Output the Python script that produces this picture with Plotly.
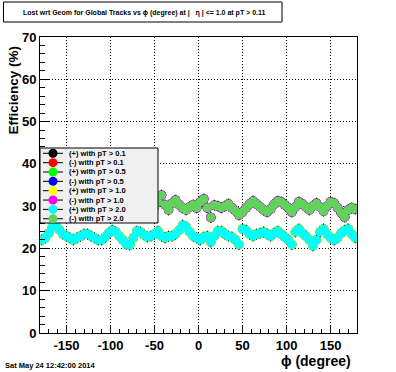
import plotly.graph_objects as go

# ---------------- data ----------------
phi = list(range(-178, 180, 4))  # bin centers (degrees)

eff_pos = [22.0, 22.5, 23.6, 25.1, 25.4, 24.4, 23.4, 22.9, 22.5, 22.0,
           22.5, 22.9, 23.4, 23.4, 22.9, 22.5, 22.0, 22.0, 22.7, 23.6,
           24.3, 23.9, 22.9, 22.0, 21.0, 20.8, 22.5, 24.1, 23.9, 23.2,
           22.7, 22.9, 23.4, 24.1, 22.9, 22.5, 22.9, 22.9, 23.4, 24.3,
           25.5, 25.1, 23.9, 22.9, 22.5, 22.0, 22.7, 22.9, 21.5, 22.9,
           24.1, 24.1, 23.4, 22.9, 22.7, 22.0, 20.9, 24.6, 24.3, 23.4,
           22.9, 23.4, 23.6, 23.9, 23.4, 22.9, 23.6, 24.1, 23.4, 22.7,
           22.0, 20.9, 23.9, 24.6, 23.6, 22.9, 22.0, 20.6, 22.0, 23.9,
           24.6, 23.4, 22.5, 22.0, 22.5, 23.6, 24.3, 24.6, 23.4, 22.5]

eff_neg = [31.4, 30.5, 30.0, 29.6, 30.2, 30.8, 31.0, 30.4, 29.8, 29.5,
           30.0, 30.6, 31.2, 30.8, 30.1, 29.6, 29.9, 30.5, 30.9, 30.3,
           29.7, 29.4, 29.9, 30.6, 31.1, 30.7, 30.0, 29.5, 29.8, 30.4,
           30.9, 30.5, 29.9, 31.0, 32.6, 30.3, 29.1, 30.7, 31.4, 30.3,
           29.6, 29.1, 29.8, 30.3, 29.6, 31.0, 31.7, 29.6, 27.3, 30.2,
           30.0, 29.6, 30.0, 30.5, 29.6, 28.8, 27.9, 28.6, 29.6, 30.5,
           31.2, 30.5, 29.8, 29.1, 28.6, 29.3, 30.5, 31.2, 31.0, 30.3,
           29.6, 28.6, 29.8, 31.0, 30.5, 29.8, 29.1, 30.0, 30.7, 29.8,
           28.8, 30.0, 31.0, 30.7, 29.6, 28.4, 27.4, 29.1, 29.6, 29.3]

series_labels = ["(+) with pT > 0.1", "(-) with pT > 0.1",
                 "(+) with pT > 0.5", "(-) with pT > 0.5",
                 "(+) with pT > 1.0", "(-) with pT > 1.0",
                 "(+) with pT > 2.0", "(-) with pT > 2.0"]
series_values = [eff_pos, eff_neg, eff_pos, eff_neg,
                 eff_pos, eff_neg, eff_pos, eff_neg]
series_colors = ["#000000", "#ff0000", "#00ff00", "#0000ff",
                 "#ffff00", "#ff00ff", "#00ffff", "#5fd35a"]

x_ticks = [-150, -100, -50, 0, 50, 100, 150]
y_ticks = [0, 10, 20, 30, 40, 50, 60, 70]

title_text = "Lost wrt Geom for Global Tracks vs \u03d5 (degree) at |   \u03b7 | <= 1.0 at pT > 0.11"
date_text = "Sat May 24 12:42:00 2014"

# ---------------- layout helpers ----------------
W, H = 396, 372
L, R, T, B = 40, 39, 37, 39
PW, PH = W - L - R, H - T - B


def px2x(px):
    return (px - L) / PW


def py2y(py):
    return (H - B - py) / PH


FONT = "Liberation Sans, Arial, Helvetica, sans-serif"

fig = go.Figure()

n = len(series_labels)
for i, (lab, vals, col) in enumerate(zip(series_labels, series_values, series_colors)):
    top = i >= n - 2
    fig.add_trace(go.Scatter(
        x=phi, y=vals, mode="markers", name=lab, showlegend=False,
        marker=dict(color=col, size=9 if top else 9.5, line=dict(width=0)),
        error_y=dict(type="constant", value=1.3, thickness=1, width=0,
                     color="black") if top else None,
        hoverinfo="skip",
    ))

shapes = []
annotations = []

# title box
shapes.append(dict(type="rect", xref="paper", yref="paper",
                   x0=px2x(3.5), x1=px2x(282), y0=py2y(22), y1=py2y(2),
                   line=dict(color="black", width=1), fillcolor="white",
                   layer="above"))
annotations.append(dict(xref="paper", yref="paper", x=px2x(144), y=py2y(12.5),
                        text=title_text, showarrow=False, xanchor="center",
                        yanchor="middle",
                        font=dict(family=FONT, size=7, color="black", weight="bold")))

# legend box
shapes.append(dict(type="rect", xref="paper", yref="paper",
                   x0=px2x(40), x1=px2x(158), y0=py2y(223), y1=py2y(148),
                   line=dict(color="black", width=1), fillcolor="#f0f0f0",
                   layer="above"))
for k, (lab, col) in enumerate(zip(series_labels, series_colors)):
    cy = 153.3 + 9.35 * k
    shapes.append(dict(type="line", xref="paper", yref="paper",
                       x0=px2x(43), x1=px2x(63), y0=py2y(cy), y1=py2y(cy),
                       line=dict(color="black", width=1), layer="above"))
    shapes.append(dict(type="circle", xref="paper", yref="paper",
                       xsizemode="pixel", ysizemode="pixel",
                       xanchor=px2x(53), yanchor=py2y(cy),
                       x0=-4.5, x1=4.5, y0=-4.5, y1=4.5,
                       fillcolor=col, line=dict(width=0), layer="above"))
    annotations.append(dict(xref="paper", yref="paper", x=px2x(67), y=py2y(cy),
                            text=lab, showarrow=False, xanchor="left",
                            yanchor="middle",
                            font=dict(family=FONT, size=7.5, color="black",
                                      weight="bold")))

# axis titles
annotations.append(dict(xref="paper", yref="paper", x=px2x(13), y=py2y(44),
                        text="Efficiency (%)", showarrow=False, textangle=-90,
                        xanchor="center", yanchor="top",
                        font=dict(family=FONT, size=13.5, color="black", weight="bold")))
annotations.append(dict(xref="paper", yref="paper", x=px2x(353), y=py2y(361),
                        text="\u03d5 (degree)", showarrow=False,
                        xanchor="right", yanchor="middle",
                        font=dict(family=FONT, size=14, color="black", weight="bold")))
# date
annotations.append(dict(xref="paper", yref="paper", x=px2x(3), y=py2y(365),
                        text=date_text, showarrow=False,
                        xanchor="left", yanchor="middle",
                        font=dict(family=FONT, size=7.5, color="black", weight="bold")))

fig.update_layout(
    width=W, height=H,
    margin=dict(l=L, r=R, t=T, b=B, pad=0),
    paper_bgcolor="white", plot_bgcolor="white",
    showlegend=False, hovermode=False,
    shapes=shapes, annotations=annotations,
    font=dict(family=FONT, color="black"),
)

fig.update_xaxes(
    range=[-180, 180], tickvals=x_ticks, ticktext=[str(v) for v in x_ticks],
    ticks="inside", ticklen=8, tickwidth=1, tickcolor="black",
    minor=dict(ticks="inside", ticklen=4, dtick=10, tickcolor="black",
               showgrid=False),
    showgrid=True, gridcolor="black", gridwidth=1, griddash="1px,2px",
    showline=True, linecolor="black", linewidth=1, mirror=True,
    zeroline=False,
    tickfont=dict(family=FONT, size=13, color="black", weight="bold"),
)
fig.update_yaxes(
    range=[0, 70], tickvals=y_ticks, ticktext=[str(v) for v in y_ticks],
    ticks="inside", ticklen=9, tickwidth=1, tickcolor="black",
    minor=dict(ticks="inside", ticklen=5, dtick=2, tickcolor="black",
               showgrid=False),
    showgrid=True, gridcolor="black", gridwidth=1, griddash="1px,2px",
    showline=True, linecolor="black", linewidth=1, mirror=True,
    zeroline=False,
    tickfont=dict(family=FONT, size=13, color="black", weight="bold"),
)

fig.write_html("out.html", config={"displayModeBar": False},
               post_script="document.body.style.margin='0';document.body.style.padding='0';")
